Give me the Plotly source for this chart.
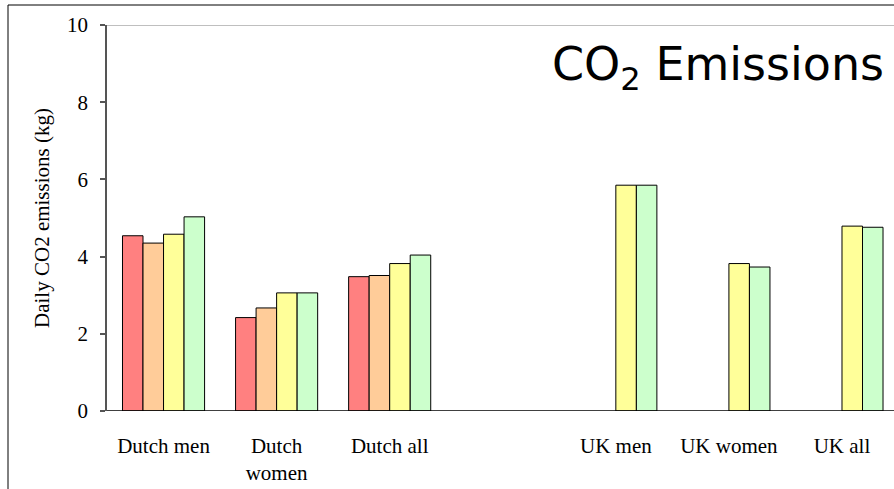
import plotly.graph_objects as go

# Category labels (position 3 is an empty spacer between the Dutch and UK groups)
categories = ["Dutch men", "Dutch<br>women", "Dutch all", "", "UK men", "UK women", "UK all"]

# Daily CO2 emissions (kg) per series
series_1 = [4.54, 2.42, 3.48, None, None, None, None]
series_2 = [4.35, 2.67, 3.51, None, None, None, None]
series_3 = [4.58, 3.06, 3.82, None, 5.85, 3.82, 4.79]
series_4 = [5.03, 3.06, 4.04, None, 5.85, 3.73, 4.76]

y_ticks = [0, 2, 4, 6, 8, 10]

series = [
    ("Series 1", series_1, "#FF8080"),
    ("Series 2", series_2, "#FFCC99"),
    ("Series 3", series_3, "#FFFF99"),
    ("Series 4", series_4, "#CCFFCC"),
]

x_pos = list(range(len(categories)))
serif = "Liberation Serif, Times New Roman, serif"

fig = go.Figure()
for name, vals, color in series:
    fig.add_trace(go.Bar(
        x=x_pos, y=vals, name=name,
        marker=dict(color=color, line=dict(color="#000000", width=1)),
        showlegend=False,
    ))

W, H = 894, 489
L, T, B = 107, 25, 78

fig.update_layout(
    width=W, height=H,
    margin=dict(l=L, r=0, t=T, b=B, pad=0),
    paper_bgcolor="white", plot_bgcolor="white",
    barmode="group", bargap=0.274, bargroupgap=0,
    font=dict(family=serif, size=21, color="#000000"),
    xaxis=dict(
        range=[-0.5, 6.46],
        tickvals=x_pos, ticktext=categories,
        showgrid=False, zeroline=False, showline=False,
        ticks="", ticklabelstandoff=20,
        tickfont=dict(family=serif, size=21),
    ),
    yaxis=dict(
        range=[0, 10], tickvals=y_ticks,
        showgrid=False, zeroline=False,
        showline=True, linecolor="#555555", linewidth=1.5,
        ticks="outside", ticklen=5, tickcolor="#555555", tickwidth=1.5,
        ticklabelstandoff=8,
        tickfont=dict(family=serif, size=21),
        title=dict(text="Daily CO2 emissions (kg)", font=dict(family=serif, size=21), standoff=12),
    ),
    shapes=[
        # baseline
        dict(type="line", xref="paper", yref="y", x0=0, x1=1, y0=0, y1=0,
             line=dict(color="#000000", width=1.5)),
        # top boundary at the axis maximum
        dict(type="line", xref="paper", yref="y", x0=0, x1=1, y0=10, y1=10,
             line=dict(color="#AAAAAA", width=1.5)),
        # outer frame
        dict(type="rect", xref="paper", yref="paper",
             x0=(8 - L) / (W - L), x1=1.02,
             y0=-0.25, y1=1 + (T - 5) / (H - T - B),
             line=dict(color="#000000", width=1), fillcolor="rgba(0,0,0,0)", layer="below"),
    ],
    annotations=[
        dict(text="CO<sub>2</sub> Emissions", xref="paper", yref="paper",
             x=(550 - L) / (W - L), xanchor="left",
             y=1 - (68 - T) / (H - T - B), yanchor="middle",
             showarrow=False,
             font=dict(family="DejaVu Sans, Verdana, sans-serif", size=46, color="#000000")),
    ],
)

fig.write_html("out.html")
